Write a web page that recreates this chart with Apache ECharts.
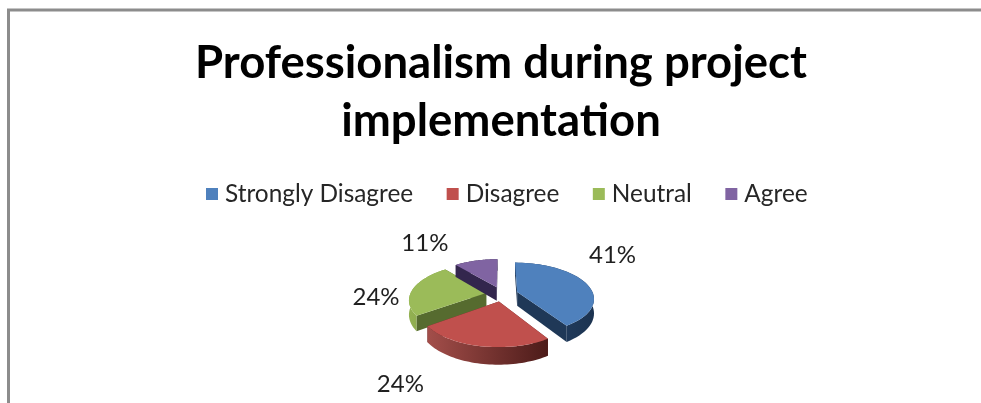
<!DOCTYPE html>
<html>
<head>
<meta charset="utf-8">
<style>html,body{margin:0;padding:0;background:#fff}#c{width:981px;height:403px}</style>
<script src="https://cdn.jsdelivr.net/npm/echarts@6/dist/echarts.min.js"></script>
</head>
<body>
<div id="c"></div>
<script>
const titleLines = ['Professionalism during project', 'implementation'];
const categories = ['Strongly Disagree', 'Disagree', 'Neutral', 'Agree'];
const shares = [41, 24, 24, 11];
const topColors = ['#4f81bd', '#c0504d', '#9bbb59', '#8064a2'];
const edgeColors = ['#1f3857', '#5f2a28', '#566b2f', '#33264d'];
const arcColors = [['#26456c', '#1c3350'], ['#a34e4a', '#4c1b19'], ['#93b152', '#7f9c44'], ['#33264d', '#33264d']];

const geo = {cx: 502, cy: 294, rx: 76, ry: 35, persp: 0.17, explode: 0.21, height: 14};
const labelNudge = [[27, -28], [-80, 38], [-37, 8], [-51, -17]];

const total = shares.reduce((a, b) => a + b, 0);
const starts = [];
shares.reduce((acc, v, i) => { starts[i] = acc; return acc + v / total * Math.PI * 2; }, 0);

function project(xd, yd, drop) {
  const s = 1 / (1 + geo.persp * yd);
  return [geo.cx + geo.rx * xd * s, geo.cy - geo.ry * yd * s + drop * s];
}
function renderSlice(i) {
  return function (params, api) {
    const sweep = api.value(0) / total * Math.PI * 2;
    const a0 = starts[i], a1 = a0 + sweep, mid = a0 + sweep / 2;
    const ox = geo.explode * Math.sin(mid), oy = geo.explode * Math.cos(mid);
    const rim = (a, d) => project(ox + Math.sin(a), oy + Math.cos(a), d);
    const ctr = d => project(ox, oy, d);
    const N = 48, arc = [];
    for (let k = 0; k <= N; k++) arc.push(a0 + sweep * k / N);
    const top = [ctr(0)].concat(arc.map(a => rim(a, 0)));
    const wall = arc.map(a => rim(a, 0)).concat(arc.slice().reverse().map(a => rim(a, geo.height)));
    const side = a => [ctr(0), rim(a, 0), rim(a, geo.height), ctr(geo.height)];
    const anchor = rim(mid, 0);
    const n = labelNudge[i];
    return {
      type: 'group',
      children: [
        {type: 'polygon', shape: {points: side(a0)}, style: {fill: edgeColors[i]}},
        {type: 'polygon', shape: {points: side(a1)}, style: {fill: edgeColors[i]}},
        {type: 'polygon', shape: {points: wall}, style: {fill: {type: 'linear', x: 0, y: 0, x2: 1, y2: 0,
          colorStops: [{offset: 0, color: arcColors[i][0]}, {offset: 1, color: arcColors[i][1]}]}}},
        {type: 'polygon', shape: {points: top}, style: {fill: topColors[i]}},
        {type: 'text', x: anchor[0] + n[0], y: anchor[1] + n[1], style: {
          text: api.value(0) + '%', fill: '#1f1f1f', align: 'center', verticalAlign: 'middle',
          font: '24px Lato'}}
      ]
    };
  };
}

const chart = echarts.init(document.getElementById('c'), null, {renderer: 'canvas'});
chart.setOption({
  animation: false,
  backgroundColor: '#ffffff',
  title: {
    text: titleLines.join('\n'),
    left: 496, top: 29, textAlign: 'center',
    textStyle: {fontFamily: 'Lato', fontWeight: 'bold', fontSize: 45.5, lineHeight: 58, color: '#000000'}
  },
  legend: {
    data: categories,
    left: 201, top: 177, itemWidth: 12, itemHeight: 12, itemGap: 33.5, icon: 'rect',
    selectedMode: false,
    textStyle: {fontFamily: 'Lato', fontSize: 24.4, color: '#262626', padding: [0, 0, 0, 2]}
  },
  graphic: [
    {type: 'line', z: 1, shape: {x1: 8.5, y1: 10, x2: 8.5, y2: 403}, style: {stroke: '#8c8c8c', lineWidth: 3}},
    {type: 'line', z: 1, shape: {x1: 7, y1: 10, x2: 981, y2: 10}, style: {stroke: '#8c8c8c', lineWidth: 3}}
  ],
  series: categories.map((name, i) => ({
    type: 'custom',
    name,
    coordinateSystem: 'none',
    z: i === 1 ? 4 : 3,
    itemStyle: {color: topColors[i]},
    data: [[shares[i]]],
    renderItem: renderSlice(i)
  }))
});
</script>
</body>
</html>
